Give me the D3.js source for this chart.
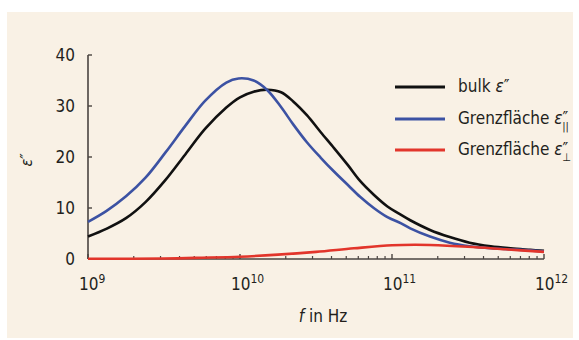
<!DOCTYPE html>
<html>
<head>
<meta charset="utf-8">
<script src="https://cdn.jsdelivr.net/npm/d3@7/dist/d3.min.js"></script>
<style>
  html, body { margin: 0; padding: 0; background: #fff; }
  svg { display: block; }
  text { font-family: "Liberation Sans Narrow", "DejaVu Sans Condensed", "Roboto", sans-serif; fill: #231f1c; }
</style>
</head>
<body>
<div id="chart"></div>
<script>
// log10 of frequency in Hz
const bulkLogF = [9, 9.12, 9.25, 9.38, 9.51, 9.64, 9.77, 9.91, 10.0, 10.09, 10.18, 10.27, 10.35, 10.44, 10.53, 10.62, 10.71, 10.79, 10.88, 10.97, 11.04, 11.12, 11.25, 11.38, 11.51, 11.65, 11.78, 11.91, 12];
const bulkEps = [4.4, 5.9, 8.0, 11.2, 15.5, 20.5, 25.5, 29.7, 31.7, 32.8, 33.2, 32.7, 30.9, 28.2, 24.9, 21.7, 18.4, 15.3, 12.6, 10.3, 9.0, 7.6, 5.7, 4.3, 3.2, 2.5, 2.1, 1.8, 1.6];

const paraLogF = [9, 9.12, 9.25, 9.38, 9.51, 9.64, 9.77, 9.91, 9.99, 10.09, 10.18, 10.27, 10.35, 10.44, 10.53, 10.62, 10.71, 10.79, 10.88, 10.97, 11.06, 11.12, 11.25, 11.38, 11.51, 11.65, 11.78, 11.91, 12];
const paraEps = [7.3, 9.4, 12.3, 16.0, 20.9, 26.1, 31.0, 34.6, 35.4, 35.0, 33.1, 29.8, 26.4, 22.9, 19.9, 17.1, 14.5, 12.2, 10.0, 8.2, 7.0, 6.0, 4.4, 3.2, 2.5, 2.1, 1.9, 1.7, 1.5];

const perpLogF = [9, 9.5, 9.75, 10, 10.25, 10.5, 10.75, 11, 11.15, 11.25, 11.5, 11.75, 12];
const perpEps = [0.05, 0.1, 0.25, 0.45, 0.85, 1.4, 2.1, 2.7, 2.8, 2.75, 2.4, 1.9, 1.4];

const yTicks = [0, 10, 20, 30, 40];
const xDecades = [9, 10, 11, 12];

const width = 579, height = 340;
const svg = d3.select('#chart').append('svg')
  .attr('width', width)
  .attr('height', height);

svg.append('rect')
  .attr('x', 7).attr('y', 12)
  .attr('width', 566).attr('height', 326)
  .attr('fill', '#f9f1e5');

const x = d3.scaleLog().domain([1e9, 1e12]).range([88, 544]);
const y = d3.scaleLinear().domain([0, 40]).range([259, 55]);

const axisColor = '#4a4440';

// y axis
svg.append('line')
  .attr('x1', x(1e9)).attr('x2', x(1e9))
  .attr('y1', y(40)).attr('y2', y(0))
  .attr('stroke', axisColor).attr('stroke-width', 1.6);
svg.selectAll('.ytick').data(yTicks.filter(d => d > 0)).enter()
  .append('line')
  .attr('x1', x(1e9)).attr('x2', x(1e9) + 4)
  .attr('y1', d => y(d)).attr('y2', d => y(d))
  .attr('stroke', axisColor).attr('stroke-width', 1.4);
svg.selectAll('.ylab').data(yTicks).enter()
  .append('text')
  .attr('x', 75).attr('y', d => y(d) + 6)
  .attr('text-anchor', 'end')
  .attr('font-size', 17)
  .text(d => d);

// x axis
svg.append('line')
  .attr('x1', x(1e9)).attr('x2', x(1e12))
  .attr('y1', y(0)).attr('y2', y(0))
  .attr('stroke', axisColor).attr('stroke-width', 1.6);
const minor = [];
for (let e = 9; e < 12; e++) {
  for (let m = 2; m <= 9; m++) minor.push(m * Math.pow(10, e));
}
svg.selectAll('.xminor').data(minor).enter()
  .append('line')
  .attr('x1', d => x(d)).attr('x2', d => x(d))
  .attr('y1', y(0)).attr('y2', y(0) - 3)
  .attr('stroke', axisColor).attr('stroke-width', 1.2);
svg.selectAll('.xmajor').data(xDecades).enter()
  .append('line')
  .attr('x1', d => x(Math.pow(10, d))).attr('x2', d => x(Math.pow(10, d)))
  .attr('y1', y(0)).attr('y2', y(0) - 5)
  .attr('stroke', axisColor).attr('stroke-width', 1.4);

const xl = svg.selectAll('.xlab').data(xDecades).enter()
  .append('text')
  .attr('x', d => x(Math.pow(10, d)) - 9)
  .attr('y', 290)
  .attr('font-size', 17);
xl.append('tspan').text('10');
xl.append('tspan').attr('font-size', 12).attr('dy', -7).text(d => d);

const xt = svg.append('text')
  .attr('x', 323).attr('y', 322)
  .attr('text-anchor', 'middle')
  .attr('font-size', 17);
xt.append('tspan').attr('font-style', 'italic').text('f');
xt.append('tspan').text(' in Hz');

svg.append('text')
  .attr('transform', 'translate(32,160) rotate(-90)')
  .attr('text-anchor', 'middle')
  .attr('font-size', 16)
  .attr('font-style', 'italic')
  .text('ε″');

// curves
const line = d3.line()
  .x(d => x(Math.pow(10, d[0])))
  .y(d => y(d[1]))
  .curve(d3.curveCatmullRom.alpha(0.5));

const series = [
  { lf: perpLogF, v: perpEps, color: '#e2352b' },
  { lf: bulkLogF, v: bulkEps, color: '#111111' },
  { lf: paraLogF, v: paraEps, color: '#3c52a3' }
];
const order = [1, 2, 0];
order.forEach(i => {
  const s = series[i];
  svg.append('path')
    .datum(d3.zip(s.lf, s.v))
    .attr('d', line)
    .attr('fill', 'none')
    .attr('stroke', s.color)
    .attr('stroke-width', 2.6)
    .attr('stroke-linejoin', 'round');
});

// legend
const legend = [
  { y: 87, color: '#111111', sub: null, name: 'bulk ' },
  { y: 119, color: '#3c52a3', sub: '||', name: 'Grenzfläche ' },
  { y: 150, color: '#e2352b', sub: '⊥', name: 'Grenzfläche ' }
];
legend.forEach(d => {
  svg.append('line')
    .attr('x1', 395).attr('x2', 445)
    .attr('y1', d.y).attr('y2', d.y)
    .attr('stroke', d.color).attr('stroke-width', 3.2);
  const t = svg.append('text')
    .attr('x', 458).attr('y', d.y + 5)
    .attr('font-size', 17);
  t.append('tspan').text(d.name);
  t.append('tspan').attr('font-style', 'italic').text('ε');
  t.append('tspan').text('″');
  if (d.sub) {
    t.append('tspan').attr('font-size', 11).attr('dx', -6).attr('dy', 6).text(d.sub);
  }
});
</script>
</body>
</html>
